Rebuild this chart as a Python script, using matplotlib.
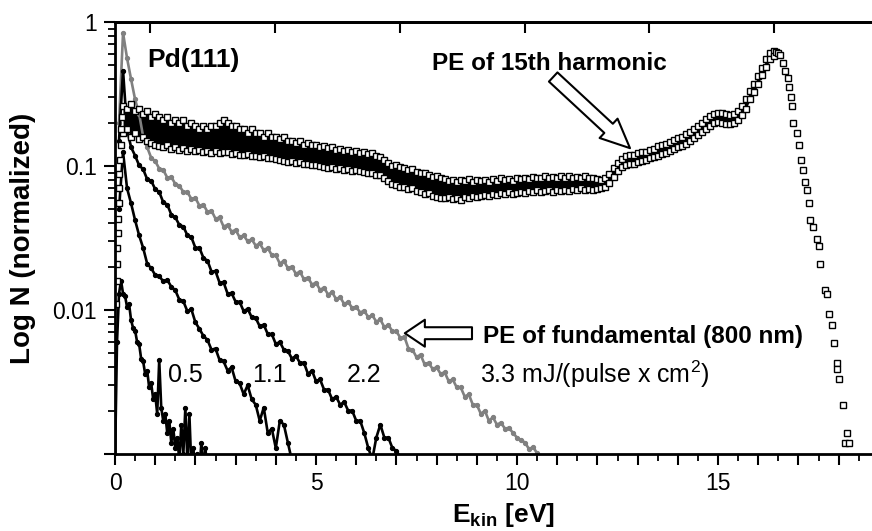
import numpy as np
import matplotlib.pyplot as plt
from matplotlib.ticker import MultipleLocator, FixedLocator, FuncFormatter, LogLocator, NullFormatter

plt.rcParams['font.family'] = 'Liberation Sans'
plt.rcParams['mathtext.fontset'] = 'custom'
plt.rcParams['mathtext.rm'] = 'Liberation Sans'
plt.rcParams['mathtext.bf'] = 'Liberation Sans:bold'

# -----------------------------
# PE of 15th harmonic (open squares), upper / lower edge of the scatter band
# -----------------------------
harm_start, harm_step = 0.2, 0.1
harm_hi = [0.26, 0.25, 0.27, 0.24, 0.25, 0.23, 0.24, 0.22, 0.23, 0.22,
           0.21, 0.22, 0.20, 0.21, 0.20, 0.21, 0.19, 0.20, 0.19, 0.18,
           0.19, 0.18, 0.19, 0.19, 0.20, 0.21, 0.20, 0.19, 0.19, 0.18,
           0.18, 0.17, 0.18, 0.17, 0.17, 0.16, 0.17, 0.16, 0.16, 0.155,
           0.16, 0.15, 0.15, 0.145, 0.15, 0.14, 0.145, 0.14, 0.14, 0.135,
           0.138, 0.133, 0.135, 0.13, 0.132, 0.128, 0.13, 0.125, 0.128, 0.124,
           0.126, 0.121, 0.123, 0.118, 0.116, 0.11, 0.105, 0.10, 0.102, 0.098,
           0.097, 0.094, 0.096, 0.091, 0.089, 0.09, 0.086, 0.084, 0.085, 0.082,
           0.081, 0.079, 0.08, 0.078, 0.08, 0.079, 0.081, 0.078, 0.08, 0.079,
           0.08, 0.078, 0.081, 0.079, 0.082, 0.08, 0.081, 0.079, 0.082, 0.081,
           0.083, 0.081, 0.084, 0.082, 0.083, 0.085, 0.082, 0.084, 0.083, 0.085,
           0.083, 0.085, 0.082, 0.084, 0.083, 0.085, 0.082, 0.083, 0.081, 0.080,
           0.083, 0.088, 0.097, 0.105, 0.112, 0.118, 0.12, 0.119, 0.123, 0.125,
           0.126, 0.13, 0.132, 0.137, 0.14, 0.143, 0.147, 0.152, 0.157, 0.16,
           0.166, 0.172, 0.18, 0.19, 0.2, 0.212, 0.222, 0.23, 0.235, 0.233,
           0.228, 0.225, 0.228, 0.24, 0.26, 0.29, 0.33, 0.37, 0.42, 0.48,
           0.55, 0.61, 0.63]
harm_lo = [0.17, 0.18, 0.16, 0.17, 0.155, 0.16, 0.15, 0.145, 0.14, 0.138,
           0.135, 0.14, 0.132, 0.136, 0.13, 0.134, 0.128, 0.131, 0.127, 0.13,
           0.126, 0.128, 0.124, 0.127, 0.123, 0.125, 0.125, 0.122, 0.124, 0.12,
           0.119, 0.121, 0.117, 0.118, 0.115, 0.117, 0.113, 0.114, 0.111, 0.11,
           0.109, 0.106, 0.108, 0.105, 0.106, 0.103, 0.104, 0.101, 0.102, 0.1,
           0.099, 0.097, 0.098, 0.096, 0.097, 0.094, 0.095, 0.093, 0.094, 0.092,
           0.091, 0.089, 0.09, 0.087, 0.086, 0.082, 0.079, 0.075, 0.074, 0.072,
           0.071, 0.069, 0.07, 0.067, 0.066, 0.064, 0.065, 0.062, 0.061, 0.06,
           0.06, 0.061, 0.059, 0.06, 0.058, 0.061, 0.06, 0.062, 0.061, 0.062,
           0.063, 0.062, 0.064, 0.063, 0.065, 0.064, 0.066, 0.064, 0.065, 0.066,
           0.065, 0.067, 0.066, 0.068, 0.066, 0.067, 0.068, 0.066, 0.068, 0.067,
           0.068, 0.067, 0.069, 0.068, 0.07, 0.068, 0.069, 0.068, 0.069, 0.07,
           0.072, 0.076, 0.084, 0.092, 0.098, 0.102, 0.104, 0.103, 0.106, 0.108,
           0.11, 0.113, 0.115, 0.118, 0.121, 0.124, 0.127, 0.131, 0.135, 0.138,
           0.143, 0.149, 0.156, 0.164, 0.172, 0.182, 0.19, 0.198, 0.202, 0.2,
           0.197, 0.196, 0.2, 0.21, 0.225, 0.25, 0.29, 0.325, 0.37, 0.43,
           0.49, 0.55, 0.58]
harm_edge_x = [0.02, 0.04, 0.05, 0.06, 0.07, 0.08, 0.09, 0.10, 0.11, 0.12, 0.14, 0.16, 0.18]
harm_edge_y = [0.011, 0.016, 0.021, 0.027, 0.034, 0.043, 0.055, 0.07, 0.088, 0.11, 0.14, 0.18, 0.22]
harm_tail_x = [16.45, 16.5, 16.55, 16.62, 16.67, 16.75, 16.77, 16.81, 16.83, 16.87, 16.96,
               17.01, 17.07, 17.11, 17.17, 17.22, 17.27, 17.3, 17.37, 17.45, 17.5, 17.54,
               17.66, 17.72, 17.77, 17.83, 17.89, 17.95, 17.97, 18.02, 18.1, 18.2, 18.16, 18.27]
harm_tail_y = [0.62, 0.61, 0.59, 0.52, 0.46, 0.41, 0.355, 0.30, 0.26, 0.20, 0.17,
               0.14, 0.11, 0.094, 0.077, 0.068, 0.055, 0.042, 0.038, 0.031, 0.028, 0.021,
               0.0138, 0.013, 0.0094, 0.0079, 0.0059, 0.0043, 0.0039, 0.0033, 0.0022, 0.0014,
               0.0012, 0.0012]

# -----------------------------
# PE of fundamental (800 nm), four fluences
# -----------------------------
f33_y = [0.20, 0.84, 0.56, 0.40, 0.29, 0.23, 0.16, 0.135, 0.114, 0.108,
         0.096, 0.094, 0.083, 0.084, 0.075, 0.073, 0.066, 0.066, 0.059, 0.060,
         0.053, 0.054, 0.048, 0.049, 0.043, 0.044, 0.038, 0.039, 0.035, 0.036,
         0.032, 0.033, 0.030, 0.031, 0.028, 0.029, 0.026, 0.027, 0.024, 0.024,
         0.021, 0.022, 0.0195, 0.020, 0.0178, 0.0185, 0.0163, 0.0168, 0.0150, 0.0155,
         0.0138, 0.0143, 0.0128, 0.0133, 0.0119, 0.0123, 0.0110, 0.0114, 0.0103, 0.0105,
         0.0096, 0.0099, 0.0089, 0.0092, 0.0083, 0.0086, 0.0076, 0.0079, 0.0071, 0.0071,
         0.0064, 0.0065, 0.0054, 0.0053, 0.0047, 0.0049, 0.0042, 0.0043, 0.0039, 0.0040,
         0.0036, 0.0037, 0.0032, 0.0033, 0.0029, 0.0029, 0.0025, 0.0026, 0.0022, 0.0022,
         0.0019, 0.0020, 0.0017, 0.0018, 0.0016, 0.00165, 0.0015, 0.00152, 0.0014, 0.0013,
         0.00125, 0.0012, 0.00108, 0.00112, 0.00101, 0.00096]
f22_y = [0.15, 0.46, 0.18, 0.135, 0.118, 0.101, 0.095, 0.081, 0.079, 0.069,
         0.066, 0.056, 0.054, 0.046, 0.044, 0.039, 0.038, 0.033, 0.032, 0.027,
         0.027, 0.023, 0.022, 0.0185, 0.0186, 0.0155, 0.0156, 0.013, 0.0131, 0.0114,
         0.0114, 0.0098, 0.0102, 0.0089, 0.0088, 0.0077, 0.0079, 0.0068, 0.0068, 0.0058,
         0.0060, 0.0053, 0.0052, 0.0046, 0.0048, 0.0043, 0.0043, 0.0036, 0.0038, 0.0032,
         0.0033, 0.0028, 0.0028, 0.0024, 0.0025, 0.0022, 0.0023, 0.0020, 0.0020, 0.0017,
         0.0017, 0.0014, 0.0011, 0.00092, 0.0013, 0.0016, 0.0013, 0.0013, 0.0011, 0.00105,
         0.00095]
f11_y = [0.05, 0.125, 0.07, 0.055, 0.042, 0.033, 0.027, 0.021, 0.0195, 0.0175,
         0.0172, 0.0158, 0.0162, 0.0145, 0.0137, 0.0118, 0.0115, 0.0098, 0.0101, 0.0082,
         0.0074, 0.0066, 0.0062, 0.0053, 0.0054, 0.0045, 0.0044, 0.0038, 0.0040, 0.0032,
         0.0031, 0.0026, 0.0030, 0.0024, 0.0022, 0.0017, 0.0021, 0.0014, 0.0015, 0.0011,
         0.0017, 0.0016, 0.0012, 0.0009]
f05_y = [0.0009, 0.006, 0.013, 0.016, 0.013, 0.0125, 0.0105, 0.011, 0.0085, 0.0075,
         0.0072, 0.006, 0.0058, 0.0046, 0.0044, 0.0036, 0.0038, 0.0029, 0.0031, 0.0024,
         0.0026, 0.0019, 0.0045, 0.0021, 0.0017, 0.0019, 0.0014, 0.0017, 0.0012, 0.0015,
         0.0011, 0.0013, 0.0009, 0.0016, 0.0010, 0.0021, 0.0009, 0.0019, 0.0008, 0.0011,
         0.0007, 0.0010, 0.0008, 0.0012, 0.0008, 0.0011, 0.0007]

harm_x = harm_start + harm_step * np.arange(len(harm_hi))
f33_x = 0.1 + 0.1 * np.arange(len(f33_y))
f22_x = 0.1 + 0.1 * np.arange(len(f22_y))
f11_x = 0.1 + 0.1 * np.arange(len(f11_y))
f05_x = 0.05 * np.arange(len(f05_y))

top_ticks = [0.87, 3.98, 7.09, 10.2, 13.28, 16.39]

fig = plt.figure(figsize=(8.72, 5.31), dpi=100)
ax = fig.add_axes([115 / 872, 77 / 531, 757 / 872, 432 / 531])

dot = dict(marker='o', ms=2.8, lw=1.9)
ax.plot(f33_x, f33_y, color='0.5', **dot)
ax.plot(f22_x, f22_y, color='black', **dot)
ax.plot(f11_x, f11_y, color='black', **dot)
ax.plot(f05_x, f05_y, color='black', **dot)

sq = dict(ls='none', marker='s', ms=3.8, mfc='white', mec='black', mew=1.0)
ax.fill_between(harm_x, harm_lo, harm_hi, color='black', lw=0)
ax.plot(harm_x, harm_hi, **sq)
ax.plot(harm_x, harm_lo, **sq)
ax.plot(harm_edge_x, harm_edge_y, **sq)
ax.plot(harm_tail_x, harm_tail_y, **sq)

ax.set_yscale('log')
ax.set_ylim(1e-3, 1)
ax.set_xlim(0, 18.83)

ylabels = {1.0: '1', 0.1: '0.1', 0.01: '0.01'}
ax.yaxis.set_major_locator(FixedLocator([0.001, 0.01, 0.1, 1]))
ax.yaxis.set_major_formatter(FuncFormatter(lambda v, p: ylabels.get(round(v, 4), '')))
ax.yaxis.set_minor_locator(LogLocator(base=10, subs=np.arange(2, 10)))
ax.yaxis.set_minor_formatter(NullFormatter())
ax.xaxis.set_major_locator(MultipleLocator(1))
ax.xaxis.set_major_formatter(FuncFormatter(lambda v, p: f'{v:.0f}' if round(v) % 5 == 0 else ''))
ax.xaxis.set_minor_locator(MultipleLocator(0.5))

ax.tick_params(which='major', direction='out', length=8, width=1.5, labelsize=16.5, pad=5)
ax.tick_params(which='minor', direction='out', length=5, width=1.3)
ax.spines['right'].set_visible(False)
for s in ['left', 'bottom', 'top']:
    ax.spines[s].set_linewidth(2)

sec = ax.secondary_xaxis('top')
sec.set_xticks(top_ticks)
sec.tick_params(direction='in', length=8, width=1.5, labeltop=False)
sec.spines['top'].set_linewidth(2)

# arrows
ax.annotate('', xy=(12.81, 0.133), xytext=(10.9, 0.415),
            arrowprops=dict(arrowstyle='simple,head_length=1.05,head_width=0.95,tail_width=0.45',
                            fc='white', ec='black', lw=1.5, shrinkA=0, shrinkB=0, mutation_scale=20))
ax.annotate('', xy=(7.21, 0.0069), xytext=(8.88, 0.0069),
            arrowprops=dict(arrowstyle='simple,head_length=0.72,head_width=0.97,tail_width=0.43',
                            fc='white', ec='black', lw=1.5, shrinkA=0, shrinkB=0, mutation_scale=20))

# labels
ax.text(0.8, 0.487, 'Pd(111)', fontsize=19, fontweight='bold', va='baseline')
ax.text(7.89, 0.464, 'PE of 15th harmonic', fontsize=17.5, fontweight='bold', va='baseline')
ax.text(9.15, 0.0059, 'PE of fundamental (800 nm)', fontsize=17.5, fontweight='bold', va='baseline')
ax.text(9.08, 0.00311, '3.3 mJ/(pulse x cm$^{2}$)', fontsize=18, va='baseline')
ax.text(1.32, 0.00316, '0.5', fontsize=18, va='baseline')
ax.text(3.4, 0.00316, '1.1', fontsize=18, va='baseline')
ax.text(5.77, 0.00316, '2.2', fontsize=18, va='baseline')

fig.text(503 / 872, 1 - 522 / 531, r'$\mathbf{E}_{\mathbf{kin}}$ [eV]', fontsize=19,
         fontweight='bold', ha='center', va='baseline')
fig.text(23 / 872, 1 - 238 / 531, 'Log N (normalized)', fontsize=20, fontweight='bold',
         rotation=90, ha='center', va='center')

fig.savefig('out.png', dpi=100)
